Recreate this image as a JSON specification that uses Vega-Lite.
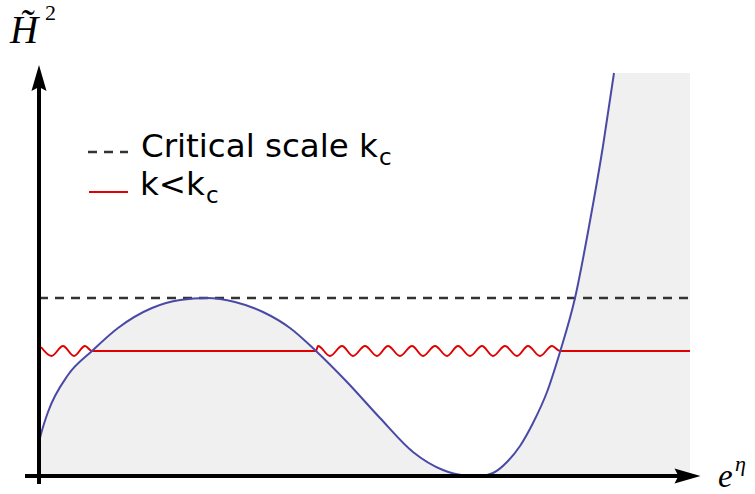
{
  "$schema": "https://vega.github.io/schema/vega-lite/v6.json",
  "width": 755,
  "height": 494,
  "padding": 0,
  "autosize": "none",
  "background": "white",
  "config": {"view": {"stroke": null}},
  "datasets": {
    "curve": [
      {"x": 0, "y": 0.34}, {"x": 0.02, "y": 0.42}, {"x": 0.09, "y": 0.64}, {"x": 0.29, "y": 1.01},
      {"x": 0.53, "y": 1.25}, {"x": 0.79, "y": 1.48}, {"x": 1.13, "y": 1.68}, {"x": 1.41, "y": 1.76},
      {"x": 1.68, "y": 1.78}, {"x": 1.96, "y": 1.74}, {"x": 2.24, "y": 1.64}, {"x": 2.51, "y": 1.48},
      {"x": 2.77, "y": 1.25}, {"x": 3.08, "y": 0.94}, {"x": 3.41, "y": 0.58}, {"x": 3.74, "y": 0.24},
      {"x": 4.04, "y": 0.06}, {"x": 4.24, "y": 0.008}, {"x": 4.41, "y": 0}, {"x": 4.54, "y": 0.03},
      {"x": 4.68, "y": 0.14}, {"x": 4.81, "y": 0.3}, {"x": 4.94, "y": 0.53}, {"x": 5.08, "y": 0.84},
      {"x": 5.21, "y": 1.24}, {"x": 5.36, "y": 1.78}, {"x": 5.51, "y": 2.55}, {"x": 5.64, "y": 3.3},
      {"x": 5.75, "y": 4.03}
    ],
    "red": [
      {"x": 0.02, "y": 1.29}, {"x": 0.125, "y": 1.2}, {"x": 0.24, "y": 1.3}, {"x": 0.35, "y": 1.2},
      {"x": 0.46, "y": 1.3}, {"x": 0.53, "y": 1.25}, {"x": 2.77, "y": 1.25}, {"x": 2.79, "y": 1.3},
      {"x": 2.91, "y": 1.2}, {"x": 3.03, "y": 1.3}, {"x": 3.14, "y": 1.2}, {"x": 3.26, "y": 1.3},
      {"x": 3.38, "y": 1.2}, {"x": 3.49, "y": 1.3}, {"x": 3.61, "y": 1.2}, {"x": 3.73, "y": 1.3},
      {"x": 3.84, "y": 1.2}, {"x": 3.96, "y": 1.3}, {"x": 4.08, "y": 1.2}, {"x": 4.19, "y": 1.3},
      {"x": 4.31, "y": 1.2}, {"x": 4.43, "y": 1.3}, {"x": 4.54, "y": 1.2}, {"x": 4.66, "y": 1.3},
      {"x": 4.78, "y": 1.2}, {"x": 4.89, "y": 1.3}, {"x": 5.01, "y": 1.2}, {"x": 5.13, "y": 1.3},
      {"x": 5.21, "y": 1.25}, {"x": 6.51, "y": 1.25}
    ]
  },
  "encoding": {
    "x": {"field": "x", "type": "quantitative", "scale": {"domain": [-0.39, 7.16], "nice": false, "zero": false}, "axis": null},
    "y": {"field": "y", "type": "quantitative", "scale": {"domain": [-0.18, 4.76], "nice": false, "zero": false}, "axis": null}
  },
  "layer": [
    {
      "data": {"values": [{"x": 0, "x2": 6.51, "y": 0, "y2": 4.03}]},
      "mark": {"type": "rect", "color": "#f0f0f0"},
      "encoding": {"x2": {"field": "x2"}, "y2": {"field": "y2"}}
    },
    {
      "data": {"name": "curve"},
      "mark": {"type": "area", "interpolate": "monotone", "color": "white", "orient": "vertical"},
      "encoding": {"y2": {"datum": 4.03}}
    },
    {
      "data": {"values": [{"x": 0, "x2": 6.51, "y": 1.78, "y2": 1.78}, {"x": 0.49, "x2": 0.89, "y": 3.24, "y2": 3.24}]},
      "mark": {"type": "rule", "color": "#333333", "strokeWidth": 2.5, "strokeDash": [9, 7]},
      "encoding": {"x2": {"field": "x2"}, "y2": {"field": "y2"}}
    },
    {
      "data": {"values": [{"x": 0.5, "x2": 0.89, "y": 2.84, "y2": 2.84}]},
      "mark": {"type": "rule", "color": "#e00000", "strokeWidth": 2},
      "encoding": {"x2": {"field": "x2"}, "y2": {"field": "y2"}}
    },
    {
      "data": {"name": "red"},
      "mark": {"type": "line", "interpolate": "monotone", "color": "#e00000", "strokeWidth": 2},
      "encoding": {}
    },
    {
      "data": {"name": "curve"},
      "mark": {"type": "line", "interpolate": "monotone", "color": "#4a4aa6", "strokeWidth": 2},
      "encoding": {}
    },
    {
      "data": {"values": [{"x": -0.14, "x2": 6.45, "y": 0, "y2": 0}, {"x": 0, "x2": 0, "y": -0.08, "y2": 3.9}]},
      "mark": {"type": "rule", "color": "black", "strokeWidth": 4},
      "encoding": {"x2": {"field": "x2"}, "y2": {"field": "y2"}}
    },
    {
      "data": {"values": [{"x": 0, "y": 3.98}]},
      "mark": {"type": "point", "shape": "M0,-1 L0.58,1 L0,0.7 L-0.58,1 Z", "size": 676, "filled": true, "color": "black", "opacity": 1, "strokeWidth": 0}
    },
    {
      "data": {"values": [{"x": 6.485, "y": 0}]},
      "mark": {"type": "point", "shape": "M1,0 L-1,-0.58 L-0.7,0 L-1,0.58 Z", "size": 676, "filled": true, "color": "black", "opacity": 1, "strokeWidth": 0}
    },
    {
      "data": {"values": [{"x": 1.02, "y": 3.19, "t": "Critical scale k"}, {"x": 1.01, "y": 2.81, "t": "k<k"}]},
      "mark": {"type": "text", "font": "DejaVu Sans", "fontSize": 32.5, "align": "left", "baseline": "alphabetic", "color": "black"},
      "encoding": {"text": {"field": "t"}}
    },
    {
      "data": {"values": [{"x": 3.4, "y": 3.11, "t": "c"}, {"x": 1.67, "y": 2.73, "t": "c"}]},
      "mark": {"type": "text", "font": "DejaVu Sans", "fontSize": 23, "align": "left", "baseline": "alphabetic", "color": "black"},
      "encoding": {"text": {"field": "t"}}
    },
    {
      "data": {"values": [{"x": -0.29, "y": 4.33, "t": "H̃"}]},
      "mark": {"type": "text", "font": "Liberation Serif", "fontStyle": "italic", "fontSize": 39, "align": "left", "baseline": "alphabetic", "color": "black"},
      "encoding": {"text": {"field": "t"}}
    },
    {
      "data": {"values": [{"x": 6.79, "y": -0.105, "t": "e"}]},
      "mark": {"type": "text", "font": "Liberation Serif", "fontStyle": "italic", "fontSize": 33, "align": "left", "baseline": "alphabetic", "color": "black"},
      "encoding": {"text": {"field": "t"}}
    },
    {
      "data": {"values": [{"x": 6.96, "y": 0.05, "t": "η"}]},
      "mark": {"type": "text", "font": "Liberation Serif", "fontStyle": "italic", "fontSize": 22, "align": "left", "baseline": "alphabetic", "color": "black"},
      "encoding": {"text": {"field": "t"}}
    },
    {
      "data": {"values": [{"x": 0.06, "y": 4.56, "t": "2"}]},
      "mark": {"type": "text", "font": "Liberation Serif", "fontSize": 22, "align": "left", "baseline": "alphabetic", "color": "black"},
      "encoding": {"text": {"field": "t"}}
    }
  ]
}
